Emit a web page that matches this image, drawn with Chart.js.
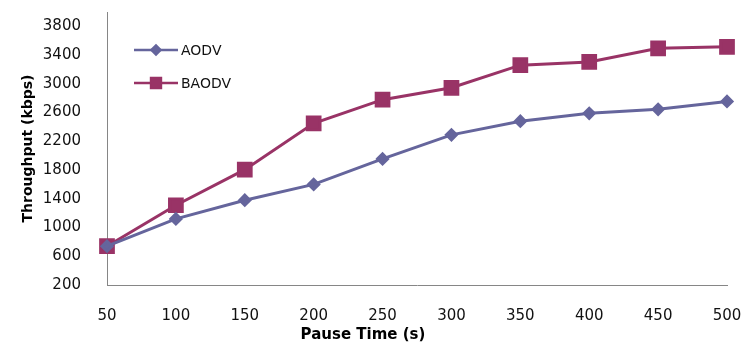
<!DOCTYPE html>
<html>
<head>
<meta charset="utf-8">
<script src="https://cdn.jsdelivr.net/npm/chart.js@4/dist/chart.umd.min.js"></script>
<style>
  html, body { margin: 0; padding: 0; background: #fff; }
  #wrap { width: 744px; height: 347px; }
</style>
</head>
<body>
<div id="wrap"><canvas id="myChart"></canvas></div>
<script>
var pauseTimes = ['50', '100', '150', '200', '250', '300', '350', '400', '450', '500'];
var aodv = [740, 1120, 1380, 1600, 1955, 2290, 2480, 2590, 2645, 2755];
var baodv = [740, 1310, 1805, 2450, 2780, 2945, 3260, 3305, 3495, 3515];
var yTicks = [200, 600, 1000, 1400, 1800, 2200, 2600, 3000, 3400, 3800];
var yMin = 200, yMax = 4000;

var FONT = '"DejaVu Sans", sans-serif';

// legend drawn inside the plot, like the Excel original
var insideLegend = {
  id: 'insideLegend',
  afterDatasetsDraw: function(chart) {
    var c = chart.ctx, a = chart.chartArea;
    var rows = [a.top + 38, a.top + 71];
    chart.data.datasets.forEach(function(ds, i) {
      var y = rows[i], x0 = a.left + 27, x1 = a.left + 71;
      c.save();
      c.strokeStyle = ds.borderColor;
      c.lineWidth = 2.5;
      c.beginPath(); c.moveTo(x0, y); c.lineTo(x1, y); c.stroke();
      Chart.helpers.drawPoint(c, {pointStyle: ds.pointStyle, radius: ds.legendRadius, rotation: 0, borderWidth: 1}, (x0 + x1) / 2, y);
      c.fillStyle = ds.borderColor;
      c.fill();
      c.fillStyle = '#111';
      c.font = '14px ' + FONT;
      c.textBaseline = 'middle';
      c.fillText(ds.label, x1 + 3, y + 1);
      c.restore();
    });
  }
};

// x title sits left of the plot centre in the original
var xTitle = {
  id: 'xTitle',
  afterDraw: function(chart) {
    var c = chart.ctx, a = chart.chartArea;
    c.save();
    c.fillStyle = '#000';
    c.font = 'bold 15px ' + FONT;
    c.textAlign = 'center';
    c.textBaseline = 'middle';
    c.fillText('Pause Time (s)', 363, a.bottom + 50);
    c.restore();
  }
};

var ctx = document.getElementById('myChart');
var chart = new Chart(ctx, {
  type: 'line',
  data: {
    labels: pauseTimes,
    datasets: [{
      label: 'AODV',
      data: aodv,
      borderColor: '#65659c',
      backgroundColor: '#65659c',
      borderWidth: 3,
      pointStyle: 'rectRot',
      pointRadius: 5,
      legendRadius: 4.5,
      tension: 0
    }, {
      label: 'BAODV',
      data: baodv,
      borderColor: '#993366',
      backgroundColor: '#993366',
      borderWidth: 3,
      pointStyle: 'rect',
      pointRadius: 9,
      legendRadius: 7,
      tension: 0
    }]
  },
  options: {
    responsive: true,
    maintainAspectRatio: false,
    animation: false,
    layout: { padding: { top: 6, right: 17, left: 0, bottom: 0 } },
    plugins: {
      legend: { display: false },
      tooltip: { enabled: false }
    },
    scales: {
      x: {
        offset: false,
        grid: { display: false },
        border: { display: true, color: '#868686', width: 1 },
        ticks: { color: '#111', font: { family: FONT, size: 15 }, padding: 14, maxRotation: 0, autoSkip: false },
        afterFit: function(s) { s.height = 62; s.paddingLeft = 0; s.paddingRight = 0; }
      },
      y: {
        min: yMin,
        max: yMax,
        grid: { display: false },
        border: { display: true, color: '#868686', width: 1 },
        ticks: {
          color: '#111', font: { family: FONT, size: 15 }, padding: 18,
          callback: function(v) { return String(v); }
        },
        afterBuildTicks: function(s) {
          s.ticks = yTicks.map(function(v) { return { value: v }; });
        },
        title: { display: true, text: 'Throughput (kbps)', color: '#000', font: { family: FONT, size: 14, weight: 'bold' }, padding: { top: 20, bottom: 0 } },
        afterFit: function(s) { s.width = 107; s.paddingTop = 0; s.paddingBottom = 0; }
      }
    }
  },
  plugins: [insideLegend, xTitle]
});
</script>
</body>
</html>
